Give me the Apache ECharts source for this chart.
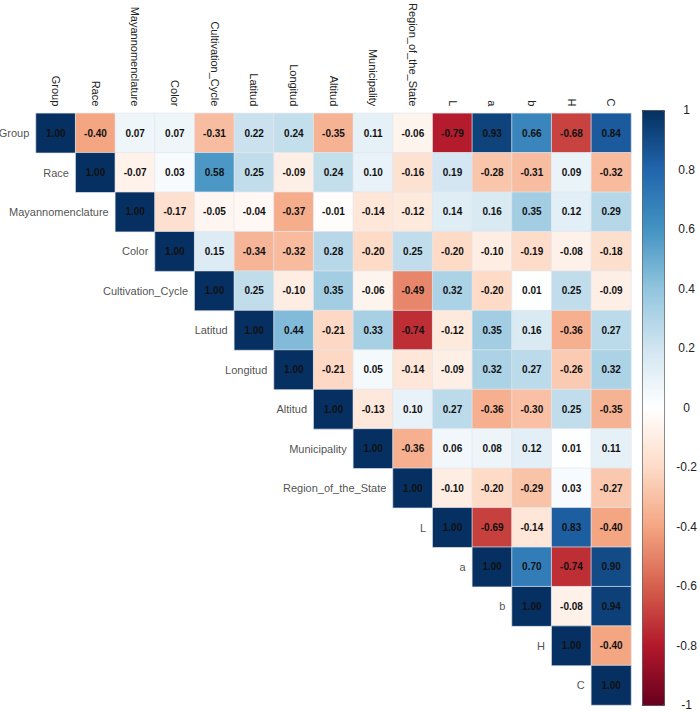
<!DOCTYPE html>
<html>
<head>
<meta charset="utf-8">
<script src="https://cdn.jsdelivr.net/npm/echarts@6/dist/echarts.min.js"></script>
<style>
html, body { margin: 0; padding: 0; background: #fff; }
#chart { width: 700px; height: 711px; }
</style>
</head>
<body>
<div id="chart"></div>
<script>
// variable names (rows / columns of the correlation matrix)
var varNames = ['Group', 'Race', 'Mayannomenclature', 'Color', 'Cultivation_Cycle', 'Latitud', 'Longitud',
	'Altitud', 'Municipality', 'Region_of_the_State', 'L', 'a', 'b', 'H', 'C'];

// upper triangle, each row starts at the diagonal
var rowGroup = [1.00, -0.40, 0.07, 0.07, -0.31, 0.22, 0.24, -0.35, 0.11, -0.06, -0.79, 0.93, 0.66, -0.68, 0.84];
var rowRace = [1.00, -0.07, 0.03, 0.58, 0.25, -0.09, 0.24, 0.10, -0.16, 0.19, -0.28, -0.31, 0.09, -0.32];
var rowMayan = [1.00, -0.17, -0.05, -0.04, -0.37, -0.01, -0.14, -0.12, 0.14, 0.16, 0.35, 0.12, 0.29];
var rowColor = [1.00, 0.15, -0.34, -0.32, 0.28, -0.20, 0.25, -0.20, -0.10, -0.19, -0.08, -0.18];
var rowCultivation = [1.00, 0.25, -0.10, 0.35, -0.06, -0.49, 0.32, -0.20, 0.01, 0.25, -0.09];
var rowLatitud = [1.00, 0.44, -0.21, 0.33, -0.74, -0.12, 0.35, 0.16, -0.36, 0.27];
var rowLongitud = [1.00, -0.21, 0.05, -0.14, -0.09, 0.32, 0.27, -0.26, 0.32];
var rowAltitud = [1.00, -0.13, 0.10, 0.27, -0.36, -0.30, 0.25, -0.35];
var rowMunicipality = [1.00, -0.36, 0.06, 0.08, 0.12, 0.01, 0.11];
var rowRegion = [1.00, -0.10, -0.20, -0.29, 0.03, -0.27];
var rowL = [1.00, -0.69, -0.14, 0.83, -0.40];
var rowA = [1.00, 0.70, -0.74, 0.90];
var rowB = [1.00, -0.08, 0.94];
var rowH = [1.00, -0.40];
var rowC = [1.00];

var legendTicks = [-1, -0.8, -0.6, -0.4, -0.2, 0, 0.2, 0.4, 0.6, 0.8, 1];

// RdBu palette, low -> high
var rdbu = ['#67001F', '#B2182B', '#D6604D', '#F4A582', '#FDDBC7', '#FFFFFF',
	'#D1E5F0', '#92C5DE', '#4393C3', '#2166AC', '#053061'];

var allRows = [rowGroup, rowRace, rowMayan, rowColor, rowCultivation, rowLatitud, rowLongitud,
	rowAltitud, rowMunicipality, rowRegion, rowL, rowA, rowB, rowH, rowC];

var cellData = [];
var diagData = [];
allRows.forEach(function (row, i) {
	row.forEach(function (v, k) {
		cellData.push([i + k, i, v]);
	});
	diagData.push([i, i, varNames[i]]);
});

var fontFam = "'Liberation Sans', Arial, sans-serif";

var chart = echarts.init(document.getElementById('chart'), null, { renderer: 'svg' });
chart.setOption({
	animation: false,
	backgroundColor: '#fff',
	grid: [{
		left: 36, top: 110, width: 595, height: 595
	}, {
		left: 642, top: 110, width: 22, height: 595
	}],
	xAxis: [{
		type: 'category',
		data: varNames,
		position: 'top',
		gridIndex: 0,
		axisLine: { show: false },
		axisTick: { show: false },
		splitLine: { show: false },
		axisLabel: {
			rotate: 90,
			margin: 7,
			interval: 0,
			fontSize: 11,
			color: '#222',
			fontFamily: fontFam
		}
	}, {
		type: 'value',
		gridIndex: 1,
		show: false,
		min: 0,
		max: 1
	}],
	yAxis: [{
		type: 'category',
		data: varNames,
		inverse: true,
		gridIndex: 0,
		show: false
	}, {
		type: 'value',
		gridIndex: 1,
		position: 'right',
		min: legendTicks[0],
		max: legendTicks[legendTicks.length - 1],
		interval: 0.2,
		axisLine: { show: false },
		splitLine: { show: false },
		axisTick: { show: true, length: 5, lineStyle: { color: '#444', width: 1 } },
		axisLabel: {
			margin: 25,
			align: 'center',
			fontSize: 12,
			color: '#222',
			fontFamily: fontFam,
			formatter: function (v) { return String(Math.round(v * 10) / 10); }
		}
	}],
	visualMap: {
		type: 'continuous',
		min: -1,
		max: 1,
		calculable: false,
		seriesIndex: 0,
		dimension: 2,
		orient: 'vertical',
		left: 642,
		top: 110,
		itemWidth: 22,
		itemHeight: 595,
		padding: 0,
		borderColor: '#444',
		borderWidth: 1,
		inRange: { color: rdbu }
	},
	series: [{
		type: 'heatmap',
		xAxisIndex: 0,
		yAxisIndex: 0,
		data: cellData,
		itemStyle: { borderColor: '#e4e7ee', borderWidth: 0.7 },
		label: {
			show: true,
			fontSize: 10,
			fontWeight: 'bold',
			color: '#111',
			fontFamily: fontFam,
			formatter: function (p) { return p.value[2].toFixed(2); }
		}
	}, {
		type: 'scatter',
		xAxisIndex: 0,
		yAxisIndex: 0,
		data: diagData,
		symbolSize: 1,
		itemStyle: { color: 'rgba(0,0,0,0)' },
		label: {
			show: true,
			position: 'left',
			distance: 26,
			fontSize: 11,
			color: '#222',
			fontFamily: fontFam,
			formatter: function (p) { return p.value[2]; }
		}
	}]
});
</script>
</body>
</html>
